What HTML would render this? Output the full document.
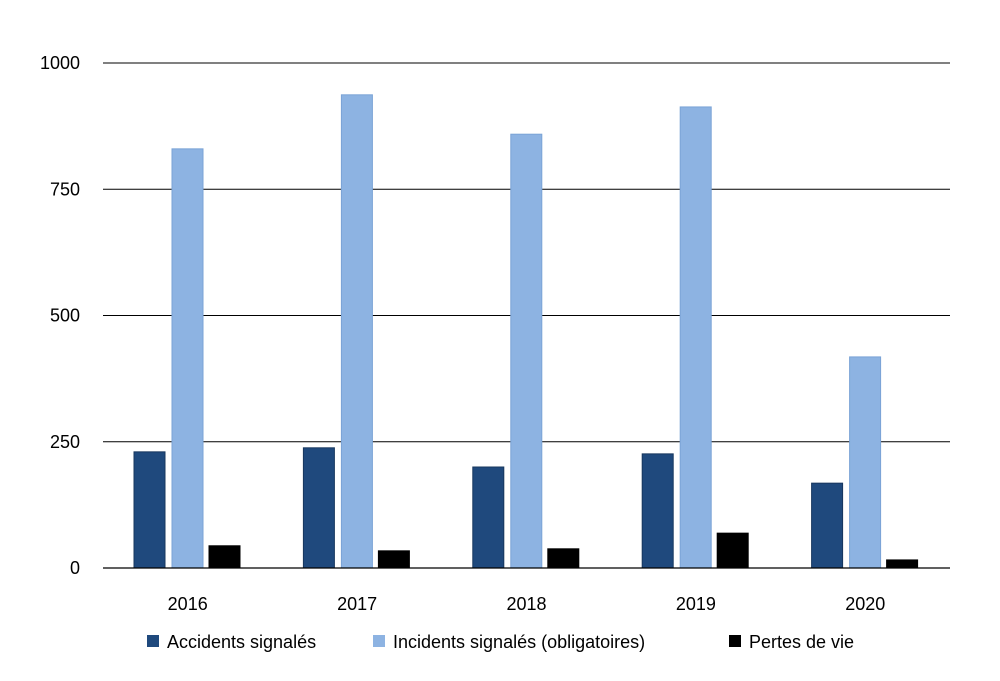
<!DOCTYPE html>
<html><head><meta charset="utf-8"><style>
html,body{margin:0;padding:0;background:#fff;}
svg{display:block;font-family:"Liberation Sans","DejaVu Sans",sans-serif;}
</style></head><body>
<svg id="chart" width="1000" height="681" viewBox="0 0 1000 681"></svg>
<script>
const categories = ["2016","2017","2018","2019","2020"];
const accidents = [230, 238, 200, 226, 168];
const incidents = [830, 937, 859, 913, 418];
const deaths = [44, 34, 38, 69, 16];
const yTicks = [0, 250, 500, 750, 1000];
const seriesNames = ["Accidents signalés","Incidents signalés (obligatoires)","Pertes de vie"];

const NS = "http://www.w3.org/2000/svg";
const svg = document.getElementById("chart");
const x0 = 103, x1 = 950, yBase = 568, yTop = 63, yMax = 1000;
const y = v => yBase - (v / yMax) * (yBase - yTop);
const groupW = (x1 - x0) / categories.length;
const gx = i => x0 + groupW * i;
function mk(tag, attrs, parent) {
  const e = document.createElementNS(NS, tag);
  for (const k in attrs) e.setAttribute(k, attrs[k]);
  (parent || svg).appendChild(e);
  return e;
}
// gridlines and ticks
yTicks.forEach(t => {
  const g = mk("line", {x1: x0, x2: x1, y1: y(t), y2: y(t), stroke: "#000", "stroke-width": 1});
  
  
  const l = mk("text", {x: 80, y: y(t) + 6, "text-anchor": "end", "font-size": 18, fill: "#000"});
  l.textContent = t;
  
  
});
const series = [
  {vals: accidents, fill: "#1f497d", stroke: "#17375e", off: 31, key: "accidents"},
  {vals: incidents, fill: "#8db3e2", stroke: "#7aa3d6", off: 69, key: "incidents"},
  {vals: deaths, fill: "#000000", stroke: "#000000", off: 106, key: "deaths"}
];
const barW = 31;
series.forEach(s => {
  s.vals.forEach((v, i) => {
    const r = mk("rect", {x: gx(i) + s.off, y: y(v), width: barW, height: yBase - y(v), fill: s.fill, stroke: s.stroke, "stroke-width": 1});
    
    
  });
});
// baseline on top
const base = mk("line", {x1: x0, x2: x1, y1: yBase, y2: yBase, stroke: "#000", "stroke-width": 1.2});


categories.forEach((c, i) => {
  const t = mk("text", {x: gx(i) + groupW / 2, y: 610, "text-anchor": "middle", "font-size": 18, fill: "#000"});
  t.textContent = c;
  
  
});
// legend
const legX = [147, 373, 729];
const legColors = ["#1f497d", "#8db3e2", "#000"];
seriesNames.forEach((n, i) => {
  const g = mk("g", {});
  
  
  mk("rect", {x: legX[i], y: 635, width: 12, height: 12, fill: legColors[i]}, g);
  const t = mk("text", {x: legX[i] + 20, y: 648, "font-size": 18, fill: "#000"}, g);
  t.textContent = n;
});
</script>
</body></html>
